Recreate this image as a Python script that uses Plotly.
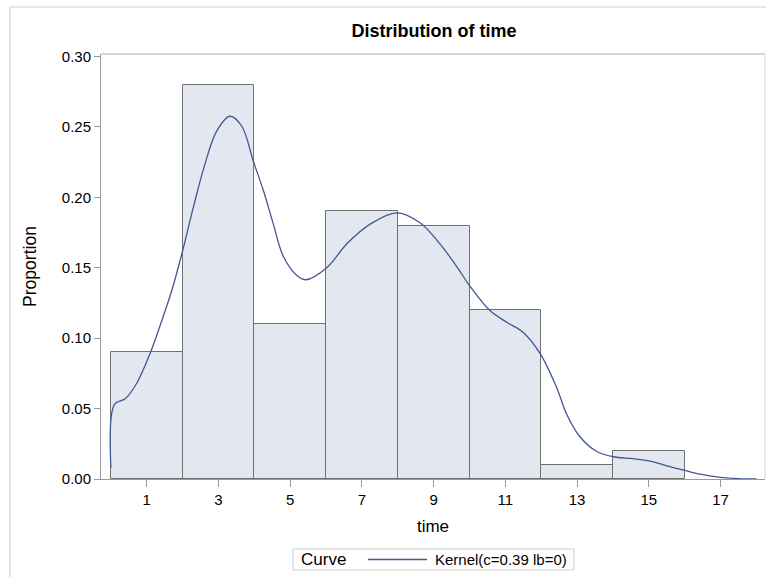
import plotly.graph_objects as go

# Histogram data
bin_mids = [1, 3, 5, 7, 9, 11, 13, 15]
bin_width = [2, 2, 2, 2, 2, 2, 2, 2]
proportion = [0.09, 0.28, 0.11, 0.19, 0.18, 0.12, 0.01, 0.02]

# Kernel density curve
kernel_x = [0, 0.1, 0.4, 0.72, 1.09, 1.42, 1.70, 2.0, 2.30, 2.62, 2.95, 3.32, 3.65, 3.97,
            4.25, 4.53, 4.81, 5.18, 5.44, 6.02, 6.58, 7.23, 7.97, 8.62, 9.18, 9.64, 10.01,
            10.57, 11.04, 11.5, 11.97, 12.43, 12.71, 13.08, 13.55, 14.01, 14.57, 15.13,
            15.5, 15.96, 16.43, 16.99, 17.5, 18.0]
kernel_y = [0.008, 0.053, 0.057, 0.068, 0.089, 0.1125, 0.134, 0.162, 0.193, 0.2234, 0.247,
            0.2576, 0.2505, 0.2258, 0.205, 0.181, 0.158, 0.1447, 0.1415, 0.150, 0.167, 0.181,
            0.189, 0.182, 0.1668, 0.151, 0.137, 0.1196, 0.1113, 0.1040, 0.089, 0.065, 0.046,
            0.030, 0.0195, 0.0158, 0.0144, 0.0122, 0.0094, 0.0064, 0.0034, 0.0012, 0.0003, 0.0]

x_ticks = [1, 3, 5, 7, 9, 11, 13, 15, 17]
y_ticks = [0.0, 0.05, 0.10, 0.15, 0.20, 0.25, 0.30]

legend_title = "Curve"
curve_name = "Kernel(c=0.39 lb=0)"
curve_color = "#445694"

FONT = "Liberation Sans, Arial, sans-serif"

fig = go.Figure()
fig.add_trace(go.Bar(
    x=bin_mids, y=proportion, width=bin_width,
    marker=dict(color="rgb(227,231,240)", line=dict(color="rgb(112,112,112)", width=1)),
    showlegend=False, hoverinfo="skip"))
fig.add_trace(go.Scatter(
    x=kernel_x, y=kernel_y, mode="lines",
    line=dict(color=curve_color, width=1.3, shape="spline", smoothing=1.0),
    name=curve_name, showlegend=False))

# legend box geometry (paper coordinates)
LX0, LX1, LY0, LY1 = 0.2892, 0.7123, -0.2141, -0.1647
LYC = (LY0 + LY1) / 2

fig.update_layout(
    width=766, height=577,
    margin=dict(l=101, r=1, t=54, b=98, autoexpand=False),
    paper_bgcolor="white", plot_bgcolor="white",
    font=dict(family=FONT, size=15, color="black"),
    title=dict(text="<b>Distribution of time</b>", x=(434 / 766), xanchor="center",
               y=1 - 31 / 577, yanchor="middle", yref="container",
               font=dict(size=18, family=FONT)),
    bargap=0,
    xaxis=dict(range=[-0.276, 18.24], tickvals=x_ticks, ticktext=[str(v) for v in x_ticks],
               showgrid=False, zeroline=False, showline=True, linecolor="#9a9a9a", linewidth=1,
               ticks="outside", ticklen=7, tickcolor="#9a9a9a",
               tickfont=dict(size=15),
               title=dict(text="time", font=dict(size=17), standoff=13)),
    yaxis=dict(range=[0, 0.3018], tickvals=y_ticks, tickformat=".2f",
               showgrid=False, zeroline=False, showline=True, linecolor="#9a9a9a", linewidth=1,
               ticks="outside", ticklen=6, tickcolor="#9a9a9a",
               tickfont=dict(size=15),
               title=dict(text="Proportion", font=dict(size=17.5), standoff=20)),
    shapes=[
        # plot-area frame (top/right)
        dict(type="line", xref="paper", yref="paper", x0=0, x1=1, y0=1, y1=1,
             line=dict(color="#c4c8cc", width=1.5)),
        dict(type="line", xref="paper", yref="paper", x0=1, x1=1, y0=0, y1=1,
             line=dict(color="#d4d6d8", width=1)),
        # outer graph frame
        dict(type="line", xref="paper", yref="paper", x0=-0.137, x1=1.01, y0=1.1106, y1=1.1106,
             line=dict(color="#d0d0d0", width=1.2)),
        dict(type="line", xref="paper", yref="paper", x0=-0.137, x1=-0.137, y0=-0.24, y1=1.1106,
             line=dict(color="#d0d0d0", width=1.2)),
        # legend box and sample line
        dict(type="rect", xref="paper", yref="paper", x0=LX0, x1=LX1, y0=LY0, y1=LY1,
             line=dict(color="#cfcfcf", width=1), fillcolor="white"),
        dict(type="line", xref="paper", yref="paper", x0=0.4021, x1=0.4910, y0=LYC, y1=LYC,
             line=dict(color=curve_color, width=1.3)),
    ],
    annotations=[
        dict(text=legend_title, xref="paper", yref="paper", x=0.2982, y=LYC,
             xanchor="left", yanchor="middle", showarrow=False, font=dict(size=17)),
        dict(text=curve_name, xref="paper", yref="paper", x=0.5, y=LYC,
             xanchor="left", yanchor="middle", showarrow=False, font=dict(size=15)),
    ],
)

fig.write_html("out.html")
